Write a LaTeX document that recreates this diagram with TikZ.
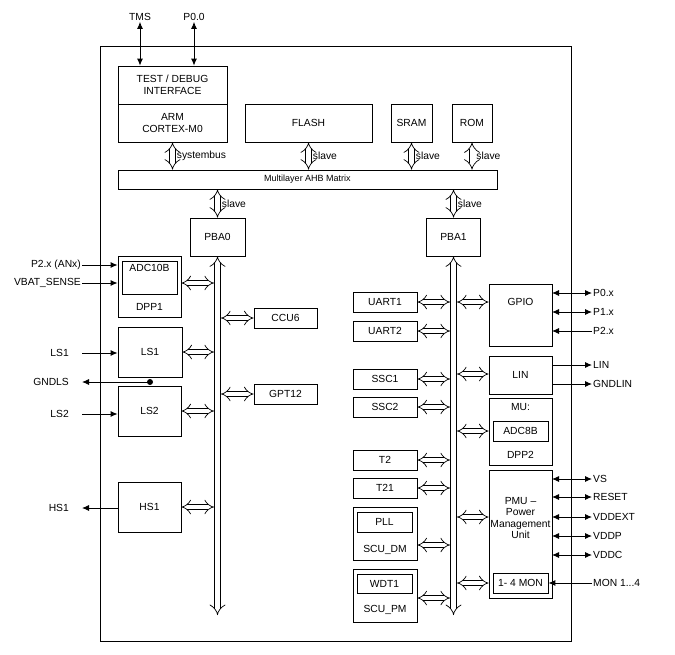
\documentclass[tikz,border=0pt]{standalone}
\usepackage{fontspec}
\setmainfont{Liberation Sans}
\usetikzlibrary{arrows.meta}
\begin{document}
\begin{tikzpicture}[x=1pt,y=-1pt,font=\fontsize{10.3}{11.5}\selectfont,
  box/.style={draw,line width=0.8pt,inner sep=0pt,align=center},
  lbl/.style={inner sep=1pt},
  dbl/.style={double,double distance=4.5pt,line width=0.7pt,{Implies}-{Implies}},
  bus/.style={double,double distance=5pt,line width=0.7pt,{Implies}-{Implies}},
  sig/.style={line width=0.9pt,-{Latex[length=7pt,width=6pt]}},
  sigb/.style={line width=0.9pt,{Latex[length=7pt,width=6pt]}-{Latex[length=7pt,width=6pt]}}]
\useasboundingbox (0,0) rectangle (675,654);
\draw[line width=1pt] (100,46) rectangle (571,641);
% top
\node[box,minimum width=109,minimum height=38] (tdi) at (172.5,85) {TEST / DEBUG\\INTERFACE};
\node[box,minimum width=109,minimum height=38] (arm) at (172.5,123) {ARM\\CORTEX-M0};
\node[box,minimum width=127,minimum height=38] (flash) at (308.5,123) {FLASH};
\node[box,minimum width=41,minimum height=38] (sram) at (411.5,123) {SRAM};
\node[box,minimum width=40,minimum height=38] (rom) at (472,123) {ROM};
\node[box,minimum width=379,minimum height=19,font=\fontsize{9}{10}\selectfont] (ahb) at (307.5,179.5) {Multilayer AHB Matrix};
\node[lbl] (tms) at (140,17) {TMS};
\node[lbl] (p00) at (194,17) {P0.0};
\draw[sigb] (tms.south) -- (tms.south |- tdi.north);
\draw[sigb] (p00.south) -- (p00.south |- tdi.north);
\draw[bus] (arm.south) -- (arm.south |- ahb.north) node[midway,right=3pt,lbl] (sb) {systembus};
\draw[bus] (flash.south) -- (flash.south |- ahb.north) node[midway,right=3pt,lbl] (s1) {slave};
\draw[bus] (sram.south) -- (sram.south |- ahb.north) node[midway,right=3pt,lbl] (s2) {slave};
\draw[bus] (rom.south) -- (rom.south |- ahb.north) node[midway,right=3pt,lbl] (s3) {slave};
\node[box,minimum width=55,minimum height=38] (pba0) at (217.5,237) {PBA0};
\node[box,minimum width=54,minimum height=38] (pba1) at (453.5,237) {PBA1};
\draw[bus] (pba0.north) -- (pba0.north |- ahb.south) node[midway,right=3pt,lbl] (s4) {slave};
\draw[bus] (pba1.north) -- (pba1.north |- ahb.south) node[midway,right=3pt,lbl] (s5) {slave};
\coordinate (b0b) at (217.5,615);
\coordinate (b1b) at (453.5,615);
\draw[bus] (pba0.south) -- (b0b);
\draw[bus] (pba1.south) -- (b1b);
% left column
\node[box,minimum width=63,minimum height=61] (dpp1) at (149.5,286.5) {};
\node[box,minimum width=55,minimum height=33] (adc10b) at (149.5,277.5) {};
\node[lbl] (adct) at (149.5,268) {ADC10B};
\node[lbl] (dpp1t) at (149.5,307) {DPP1};
\node[box,minimum width=64,minimum height=50] (ls1) at (150,352) {LS1};
\node[box,minimum width=63,minimum height=50] (ls2) at (149.5,411) {LS2};
\node[box,minimum width=63,minimum height=50] (hs1) at (149.5,507) {HS1};
\node[box,minimum width=63,minimum height=20] (ccu6) at (285.5,318) {CCU6};
\node[box,minimum width=63,minimum height=20] (gpt12) at (285.5,394) {GPT12};
\draw[dbl] (dpp1.east |- 0,283) -- (214,283);
\draw[dbl] (ls1.east) -- (214,352);
\draw[dbl] (ls2.east) -- (214,411);
\draw[dbl] (hs1.east) -- (214,507);
\draw[dbl] (ccu6.west) -- (221,318);
\draw[dbl] (gpt12.west) -- (221,394);
\node[lbl,anchor=east] (p2anx) at (82,265) {P2.x (ANx)};
\node[lbl,anchor=east] (vbat) at (82,283) {VBAT\_SENSE};
\draw[sig] (p2anx.east) -- (dpp1.west |- p2anx.east);
\draw[sig] (vbat.east) -- (dpp1.west |- vbat.east);
\node[lbl,anchor=east] (ls1l) at (70,353) {LS1};
\node[lbl,anchor=east] (gndls) at (70,382) {GNDLS};
\node[lbl,anchor=east] (ls2l) at (70,414) {LS2};
\node[lbl,anchor=east] (hs1l) at (70,508) {HS1};
\coordinate (dot) at (150,382);
\draw[sig] (82,353) -- (ls1.west |- 0,353);
\draw[sig] (dot) -- (82,382);
\fill (dot) circle (3);
\draw[sig] (82,414) -- (ls2.west |- 0,414);
\draw[sig] (hs1.west |- 0,508) -- (82,508);
% right inner column
\foreach \n/\t/\y in {uart1/UART1/302,uart2/UART2/331,ssc1/SSC1/379,ssc2/SSC2/407,t2/T2/460,t21/T21/488}{
  \node[box,minimum width=64,minimum height=20] (\n) at (385,\y) {\t};
  \draw[dbl] (\n.east) -- (450,\y);
}
\node[box,minimum width=64,minimum height=53] (scudm) at (385,533.5) {};
\node[box,minimum width=55,minimum height=20] (pll) at (384.5,522) {PLL};
\node[lbl] (scudmt) at (385,550) {SCU\_DM};
\node[box,minimum width=64,minimum height=53] (scupm) at (385,595.5) {};
\node[box,minimum width=55,minimum height=19] (wdt1) at (384.5,583.5) {WDT1};
\node[lbl] (scupmt) at (385,610) {SCU\_PM};
\draw[dbl] (scudm.east |- 0,545) -- (450,545);
\draw[dbl] (scupm.east |- 0,598) -- (450,598);
% right outer column
\node[box,minimum width=63,minimum height=62] (gpio) at (520.5,315) {};
\node[lbl] (gpiot) at (520.5,302) {GPIO};
\node[box,minimum width=63,minimum height=38] (lin) at (520.5,375) {LIN};
\node[box,minimum width=63,minimum height=67] (mu) at (520.5,431.5) {};
\node[lbl] (mut) at (520.5,407) {MU:};
\node[box,minimum width=55,minimum height=20] (adc8b) at (520.5,431) {ADC8B};
\node[lbl] (dpp2t) at (520.5,455) {DPP2};
\node[box,minimum width=63,minimum height=128] (pmu) at (520.5,534) {};
\node[lbl,align=center,inner sep=0pt] (pmut) at (520.5,518) {PMU –\\Power\\Management\\Unit};
\node[box,minimum width=55,minimum height=20] (mon) at (520.5,583) {1- 4 MON};
\draw[dbl] (457,302) -- (gpio.west |- 0,302);
\draw[dbl] (457,374) -- (lin.west |- 0,374);
\draw[dbl] (457,431) -- (mu.west |- 0,431);
\draw[dbl] (457,517) -- (pmu.west |- 0,517);
\draw[dbl] (457,583) -- (pmu.west |- 0,583);
% ports
\foreach \n/\t/\y in {p0x/P0.x/293,p1x/P1.x/312,vs/VS/479,reset/RESET/497,vddext/VDDEXT/517,vddp/VDDP/536,vddc/VDDC/555}{
  \node[lbl,anchor=west] (\n) at (592,\y) {\t};
  \draw[sigb] (552,\y) -- (\n.west);
}
\node[lbl,anchor=west] (p2x) at (592,331) {P2.x};
\draw[sig] (p2x.west) -- (552,331);
\node[lbl,anchor=west] (linp) at (592,365) {LIN};
\draw[sig] (552,365) -- (linp.west);
\node[lbl,anchor=west] (gndlin) at (592,384) {GNDLIN};
\draw[sig] (552,384) -- (gndlin.west);
\node[lbl,anchor=west] (monp) at (592,583) {MON 1...4};
\draw[sig] (monp.west) -- (mon.east);
\end{tikzpicture}
\end{document}
